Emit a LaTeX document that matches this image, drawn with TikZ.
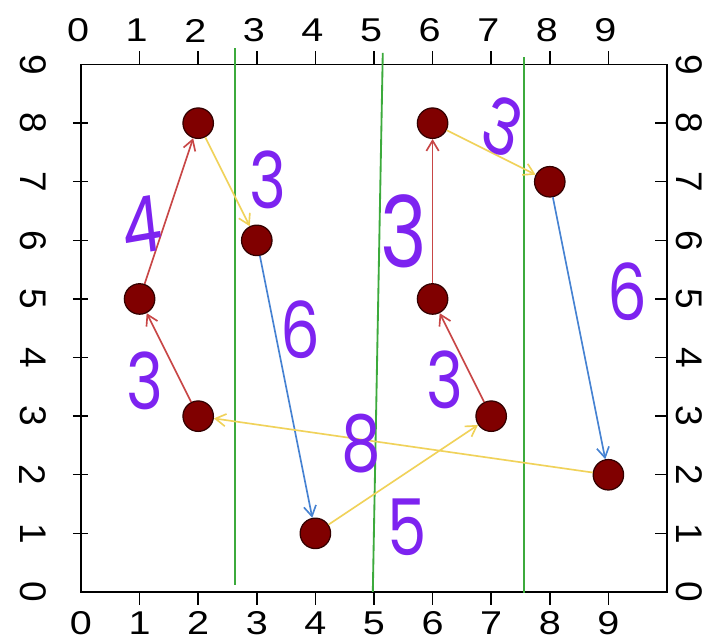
\documentclass[tikz,border=0pt]{standalone}
\usepackage{fontspec}
\setmainfont{Liberation Sans}
\newfontfamily\handfont{Poppins}
\usetikzlibrary{arrows.meta}

\definecolor{dotred}{RGB}{128,0,0}
\definecolor{edgered}{RGB}{200,70,70}
\definecolor{edgeyellow}{RGB}{240,210,90}
\definecolor{edgeblue}{RGB}{70,130,210}
\definecolor{cutgreen}{RGB}{60,170,60}
\definecolor{inkpurple}{RGB}{125,35,240}

\begin{document}
\begin{tikzpicture}[>={Straight Barb[length=5pt,width=6pt]},
	dot/.style={circle, fill=dotred, draw=black!60!dotred, line width=0.6pt,
		minimum size=0.52cm, inner sep=0pt},
	weight/.style={text=inkpurple, font=\handfont\fontsize{38}{38}\selectfont, xscale=0.8},
	ticklab/.style={font=\fontsize{16}{16}\selectfont, xscale=1.2},
	sidelab/.style={font=\fontsize{18}{18}\selectfont, rotate=-90},
	cut/.style={cutgreen, line width=0.9pt}]

	\def\xmax{10} \def\ymax{9}
	\def\ticklen{0.23} % length of outer ticks

	% keep the margins of the scan
	\useasboundingbox (-1.382,-0.802) rectangle (10.683,10.102);

	% Bounding box
	\draw[line width=0.7pt] (0,0) rectangle (\xmax,\ymax);

	% Tick marks on all four sides
	\foreach \x in {1,...,9} {
		\draw[line width=0.7pt] (\x,\ymax) -- (\x,\ymax+\ticklen);
		\draw[line width=0.7pt] (\x,0) -- (\x,-\ticklen);
	}
	\foreach \y in {1,...,8} {
		\draw[line width=0.7pt] (-0.14,\y) -- (0.12,\y);
		\draw[line width=0.7pt] (\xmax-0.2,\y) -- (\xmax,\y);
	}

	% Tick labels
	\foreach \x in {0,...,9} {
		\node[ticklab] (top\x) at (\x-0.05,9.58) {\x};
		\node[ticklab] (bot\x) at (\x,-0.53) {\x};
	}
	\foreach \y in {0,...,9} {
		\node[sidelab] (left\y) at (-0.82,\y) {\y};
		\node[sidelab] (right\y) at (10.38,\y) {\y};
	}

	% green cuts
	\draw[cut] (2.63,0.12) -- (2.63,9.28);
	\draw[cut] (4.98,0) -- (5.15,9.2);
	\draw[cut] (7.56,-0.02) -- (7.56,9.13);

	% the points of the tour
	\foreach \name/\x/\y in {a/2/3, b/1/5, c/2/8, d/3/6, e/4/1,
		f/7/3, g/6/5, h/6/8, i/8/7, j/9/2}
		\node[dot] (\name) at (\x,\y) {};

	% the tour itself
	\foreach \from/\to/\col in {a/b/edgered, b/c/edgered, c/d/edgeyellow,
		d/e/edgeblue, e/f/edgeyellow, f/g/edgered, g/h/edgered,
		h/i/edgeyellow, i/j/edgeblue, j/a/edgeyellow}
		\draw[->, \col, line width=0.8pt] (\from) -- (\to);

	% hand written lengths
	\node[weight, rotate=8] (wba) at (1.04,6.26) {4};
	\node[weight] (wcd) at (3.19,7.03) {3};
	\node[weight] (wde) at (3.74,4.47) {6};
	\node[weight] (wab) at (1.09,3.6) {3};
	\node[weight] (wja) at (4.78,2.54) {8};
	\node[weight] (wef) at (5.56,1.11) {5};
	\node[weight] (wfg) at (6.21,3.62) {3};
	\node[weight, font=\handfont\fontsize{48}{48}\selectfont] (wgh) at (5.51,6.16) {3};
	\node[weight, rotate=-20] (whi) at (7.2,7.94) {3};
	\node[weight] (wij) at (9.32,5.12) {6};
\end{tikzpicture}
\end{document}
